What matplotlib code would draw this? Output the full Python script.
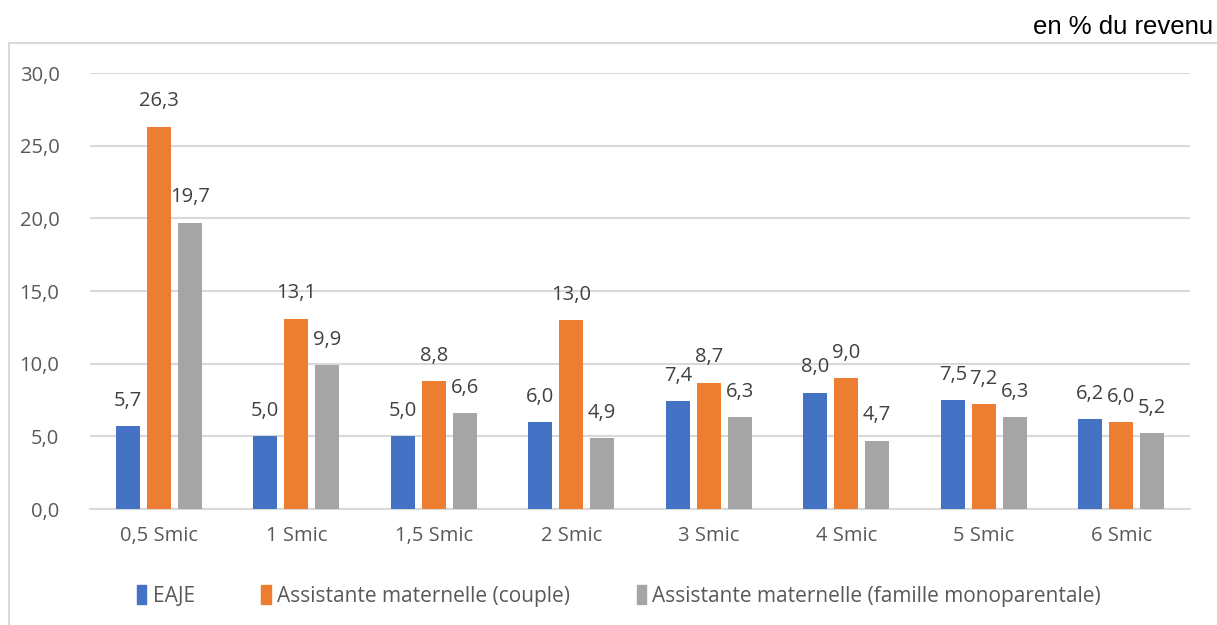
import matplotlib.pyplot as plt
import numpy as np
from matplotlib.lines import Line2D
from matplotlib.patches import Patch

categories = ["0,5 Smic", "1 Smic", "1,5 Smic", "2 Smic", "3 Smic", "4 Smic", "5 Smic", "6 Smic"]
eaje = [5.7, 5.0, 5.0, 6.0, 7.4, 8.0, 7.5, 6.2]
am_couple = [26.3, 13.1, 8.8, 13.0, 8.7, 9.0, 7.2, 6.0]
am_mono = [19.7, 9.9, 6.6, 4.9, 6.3, 4.7, 6.3, 5.2]
series_names = ["EAJE", "Assistante maternelle (couple)",
                "Assistante maternelle (famille monoparentale)"]
yticks = [0, 5, 10, 15, 20, 25, 30]

colors = ["#4472C4", "#ED7D31", "#A5A5A5"]
grid_col = "#D9D9D9"
txt_col = "#595959"
lab_col = "#404040"

fig = plt.figure(figsize=(12.17, 6.25), dpi=100)
W, H = 1217, 625

# outer chart frame (cut off on right and bottom)
fig.add_artist(Line2D([9 / W, 9 / W], [0, 1 - 43 / H], color=grid_col, lw=1.5))
fig.add_artist(Line2D([9 / W, 1], [1 - 43 / H, 1 - 43 / H], color=grid_col, lw=1.5))

ax = fig.add_axes([90 / W, 1 - 509 / H, 1100 / W, (509 - 73) / H])
x = np.arange(len(categories))
w = 0.175
step = 0.225
for i, (vals, c) in enumerate(zip([eaje, am_couple, am_mono], colors)):
    bars = ax.bar(x + (i - 1) * step, vals, w, color=c, zorder=3)
    for b, v in zip(bars, vals):
        ax.annotate(f"{v:.1f}".replace(".", ","),
                    (b.get_x() + b.get_width() / 2, v),
                    xytext=(0, 11), textcoords="offset points",
                    ha="center", va="bottom", fontsize=14.5,
                    family="Open Sans", color=lab_col)

ax.set_xlim(-0.5, len(categories) - 0.5)
ax.set_ylim(0, 30)
ax.set_yticks(yticks)
ax.set_yticklabels([f"{t:.1f}".replace(".", ",") for t in yticks],
                   family="Open Sans", fontsize=14.5, color=txt_col)
ax.set_xticks(x)
ax.set_xticklabels(categories, family="Open Sans", fontsize=14.5, color=txt_col)
ax.tick_params(length=0)
ax.tick_params(axis="y", pad=22)
ax.tick_params(axis="x", pad=12)
ax.grid(axis="y", color=grid_col, lw=1.5, zorder=0)
for s in ["top", "right", "left"]:
    ax.spines[s].set_visible(False)
ax.spines["bottom"].set_color(grid_col)
ax.spines["bottom"].set_linewidth(1.5)
ax.set_facecolor("none")

fig.text(1213 / W, 1 - 27 / H, "en % du revenu", ha="right", va="center",
         family="Liberation Sans", fontsize=18.5, color="black")

handles = [Patch(color=c) for c in colors]
leg = fig.legend(handles, series_names, loc="center", bbox_to_anchor=(619 / W, 1 - 596 / H),
                 ncol=3, frameon=False, handlelength=0.45, handleheight=1.0,
                 handletextpad=0.3, columnspacing=3.2,
                 prop={"family": "Open Sans", "size": 15})
for t in leg.get_texts():
    t.set_color(txt_col)

fig.savefig("out.png", dpi=100)
